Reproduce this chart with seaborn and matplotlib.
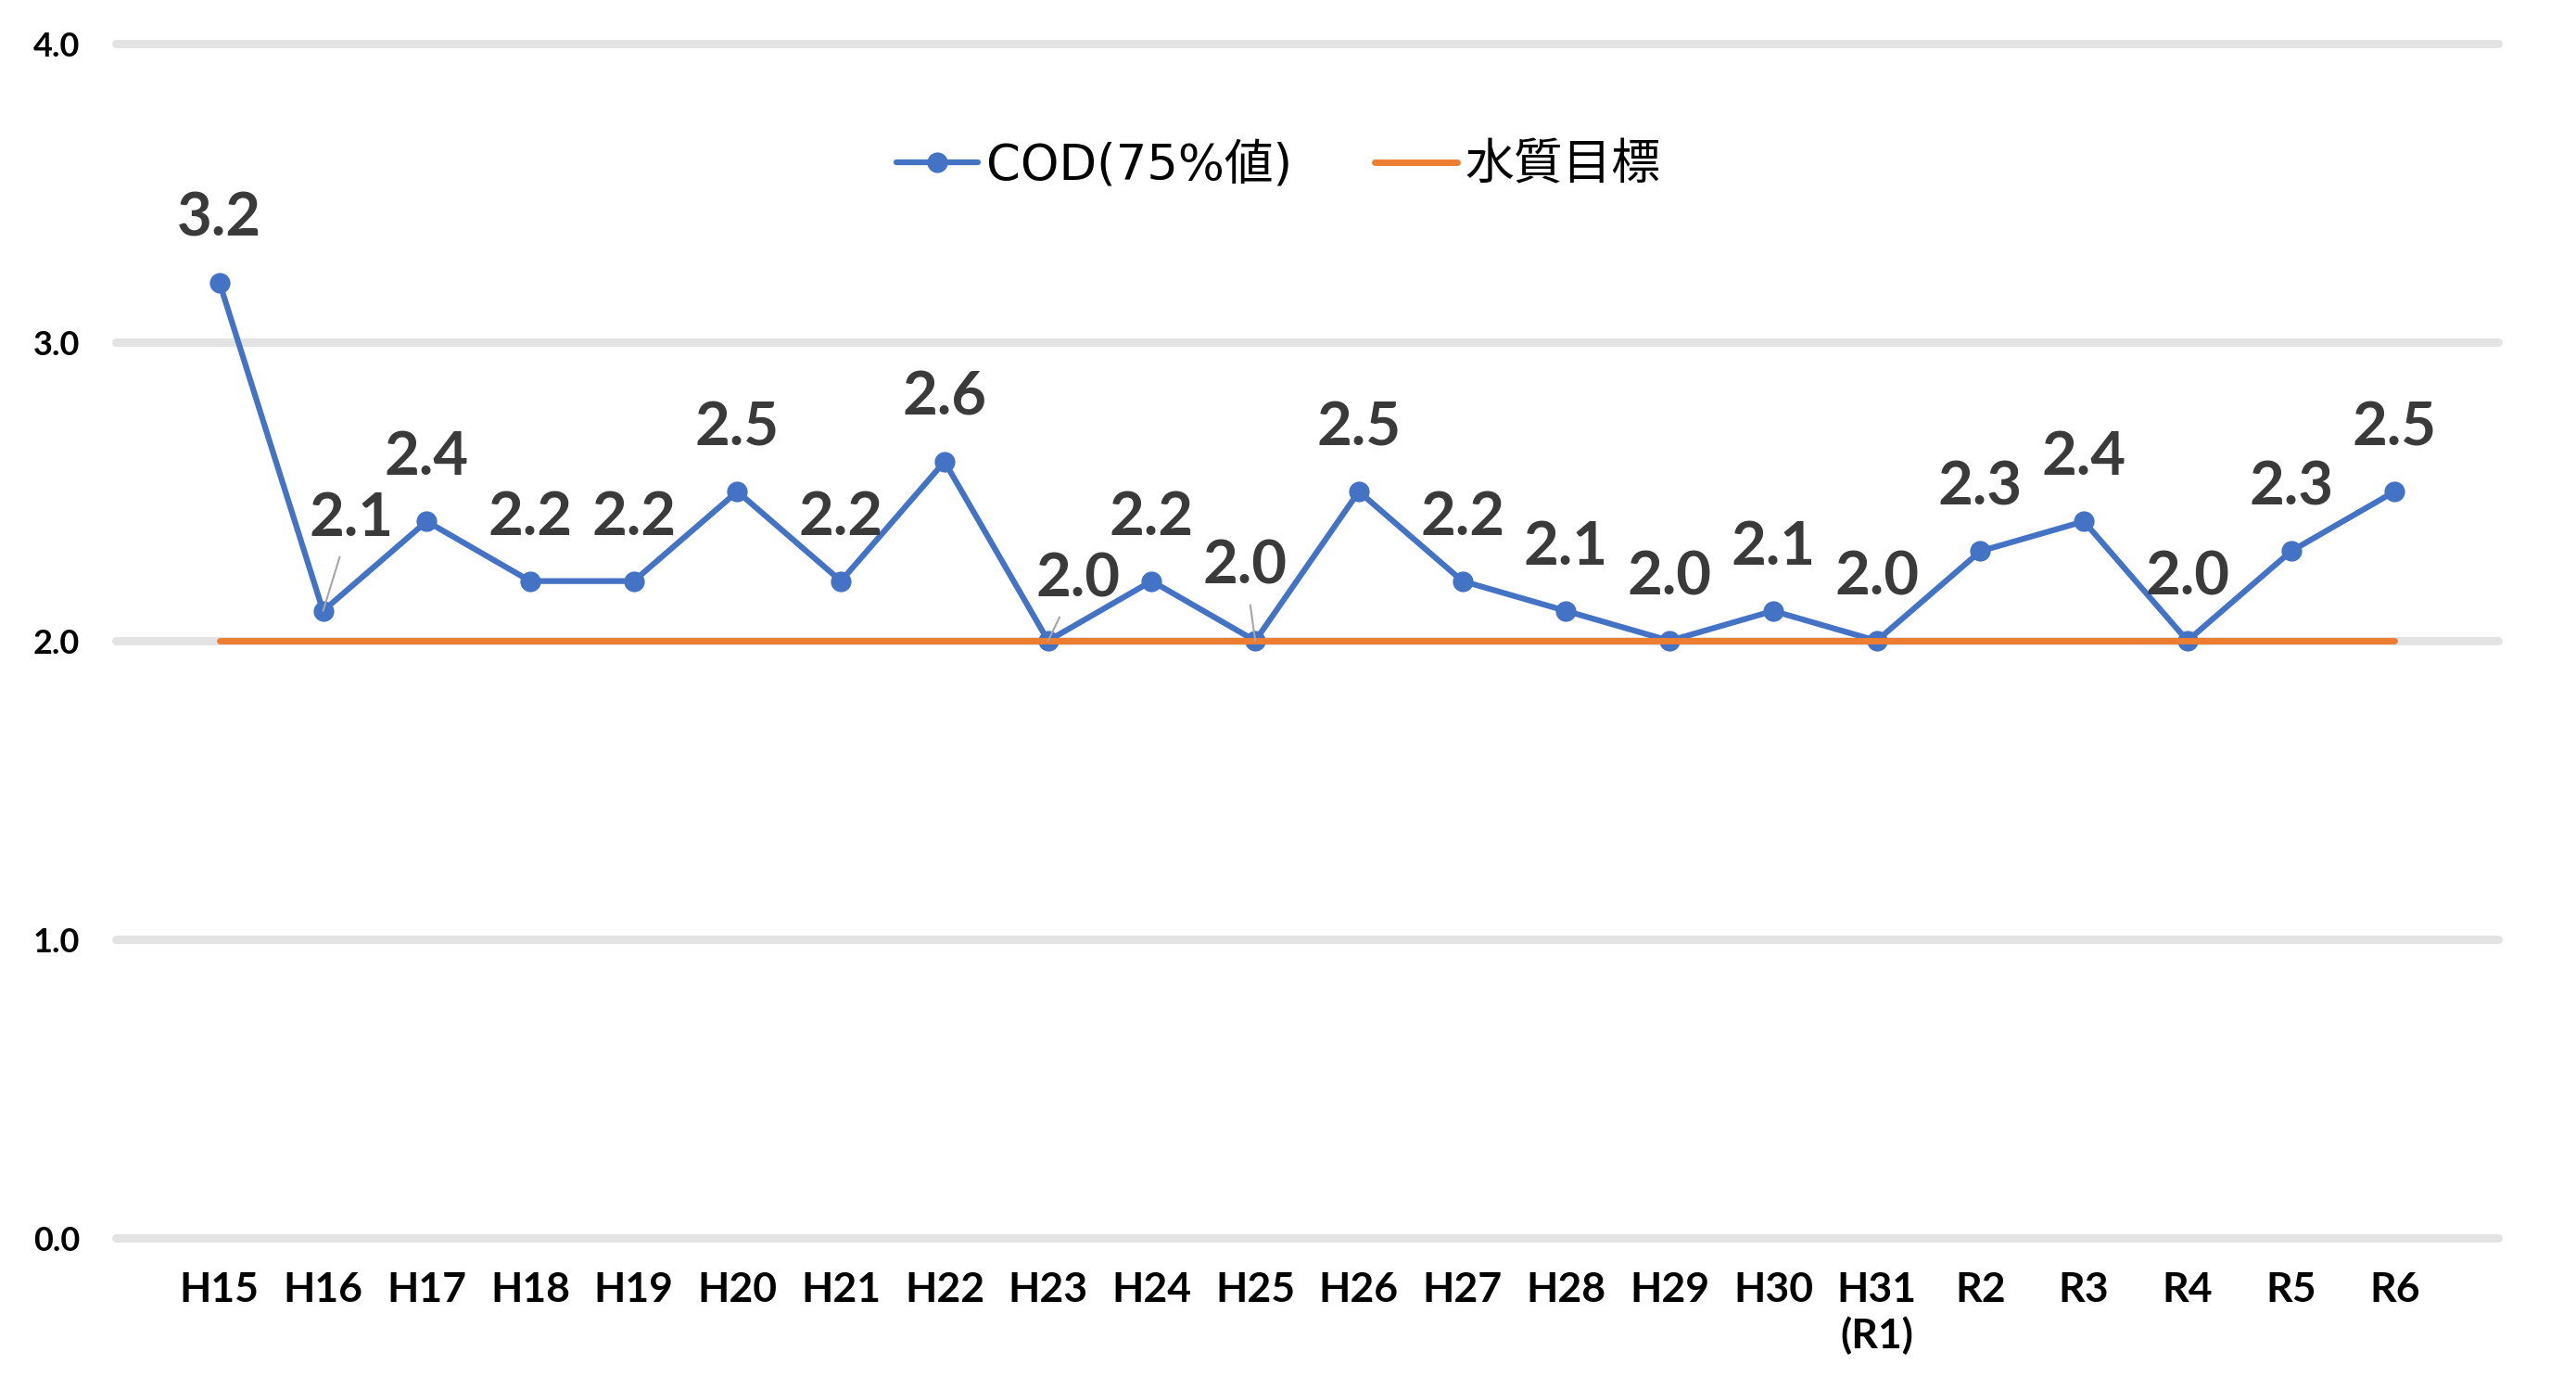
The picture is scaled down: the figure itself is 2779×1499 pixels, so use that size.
import matplotlib
matplotlib.use("Agg")
import matplotlib.pyplot as plt
import seaborn as sns
import pandas as pd

years = ["H15", "H16", "H17", "H18", "H19", "H20", "H21", "H22", "H23", "H24", "H25",
         "H26", "H27", "H28", "H29", "H30", "H31\n(R1)", "R2", "R3", "R4", "R5", "R6"]
cod = [3.2, 2.1, 2.4, 2.2, 2.2, 2.5, 2.2, 2.6, 2.0, 2.2, 2.0,
       2.5, 2.2, 2.1, 2.0, 2.1, 2.0, 2.3, 2.4, 2.0, 2.3, 2.5]
target = [2.0] * len(years)
yticks = [0.0, 1.0, 2.0, 3.0, 4.0]
series_names = ["COD(75%値)", "水質目標"]

BLUE = "#4472C4"
ORANGE = "#ED7D31"

sns.set_theme(style="white")
plt.rcParams["font.family"] = ["Lato", "Noto Sans CJK JP", "DejaVu Sans"]

fig = plt.figure(figsize=(27.79, 14.99), dpi=100)
ax = fig.add_axes([0.045, 0.1094, 0.9248, 0.8592])

df = pd.DataFrame({"year": years, "cod": cod, "target": target})

sns.lineplot(data=df, x="year", y="cod", sort=False, ax=ax, color=BLUE, lw=4.5,
             marker="o", markersize=16, markeredgewidth=0, markerfacecolor=BLUE,
             label=series_names[0], zorder=3)
sns.lineplot(data=df, x="year", y="target", sort=False, ax=ax, color=ORANGE, lw=5,
             label=series_names[1], zorder=4)

ax.set_ylim(0, 4)
ax.set_xlim(-1, len(years))
ax.set_yticks(yticks)
ax.set_yticklabels([f"{v:.1f}" for v in yticks], fontsize=26, fontweight="bold",
                   color="black", family=["Lato", "DejaVu Sans"])
for lbl in ax.get_xticklabels():
    lbl.set_fontsize(32)
    lbl.set_fontweight("bold")
    lbl.set_color("black")
    lbl.set_linespacing(1.25)
ax.tick_params(axis="x", length=0, pad=26)
ax.tick_params(axis="y", length=0, pad=28)
ax.set_xlabel("")
ax.set_ylabel("")
for s in ax.spines.values():
    s.set_visible(False)
ax.yaxis.grid(True, color="#E3E3E3", lw=6.5)
ax.xaxis.grid(False)
ax.set_axisbelow(True)
for gl in ax.get_ygridlines():
    gl.set_clip_on(False)

# data labels
special = {1: (22, 58), 8: (23, 34), 10: (-8, 44)}
for i, v in enumerate(cod):
    dx, dy = special.get(i, (0, 36))
    kw = {}
    if i in special:
        kw["arrowprops"] = dict(arrowstyle="-", color="#A6A6A6", lw=1.5,
                                shrinkA=6, shrinkB=0)
    ax.annotate(f"{v:.1f}", xy=(years[i], v), xytext=(dx, dy), textcoords="offset points",
                ha="center", va="baseline", fontsize=47, fontweight="bold",
                color="#3A3A3A", zorder=6, **kw)

leg = ax.legend(loc="center", bbox_to_anchor=(0.488, 0.898), ncol=2, frameon=False,
                prop={"family": ["DejaVu Sans", "Noto Sans CJK JP"], "size": 38},
                handlelength=1.68, handletextpad=0.17, columnspacing=1.68, borderpad=0)
for t in leg.get_texts():
    t.set_color("black")

fig.savefig("out.png", dpi=100, facecolor="white")
